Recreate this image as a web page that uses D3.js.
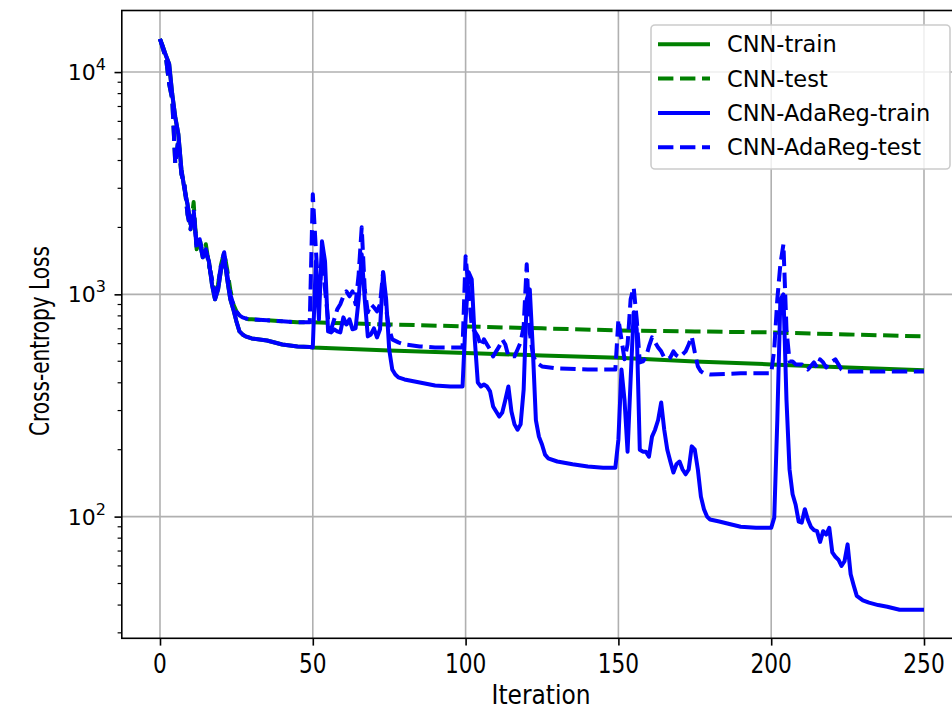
<!DOCTYPE html>
<html>
<head>
<meta charset="utf-8">
<script src="https://cdn.jsdelivr.net/npm/d3@7"></script>
<style>
  body { margin: 0; background: #fff; }
  svg { display: block; }
  .tick-x, .lbl { font-family: "DejaVu Sans Condensed", "DejaVu Sans", sans-serif; font-size: 26px; }
  .tick-y, .legend text { font-family: "DejaVu Sans", sans-serif; }
</style>
</head>
<body>
<svg id="chart"></svg>
<script>
// iterations 0..49, identical for both models before regularisation kicks in
const earlyIter  = [0,1,2,3,4,5,6,7,8,9,10,11,12,13,14,15,16,17,18,19,20,21,22,23,24,25,26,27,28,29,30,35,40,45,49];
const earlyTrain = [14080,12960,11800,10870,7960,6270,5257,3656,2972,2543,2067,2293,1680,1715,1468,1562,1408,1109,950,1053,1296,1483,1168,950,856,756,681,660,647,640,633,620,595,583,580];
const earlyTest  = [14080,12690,11440,8830,7560,3851,4990,3471,3130,2293,1962,2415,1595,1769,1514,1595,1365,1168,1000,1109,1365,1546,1230,1000,902,838,804,788,780,772,772,764,756,748,748];
const cnnEarlyTest = [14080,12690,11440,8830,7560,3851,4990,3471,3130,2293,1962,2600,1595,1769,1514,1680,1365,1168,960,1109,1365,1546,1290,1050,902,838,804,788,780,772,772,764,756,748,748];

// CNN after iteration 50
const cnnLateIter  = [50,75,100,125,150,175,200,225,250];
const cnnTrainLate = [577,559,545,531,518,499,484,469,455];
const cnnTestLate  = [748,732,717,703,688,681,674,660,647];

// CNN-AdaReg after iteration 50
const adaTrainIter = [50,51,52,53,54,55,56,57,58,59,60,61,62,63,64,65,66,67,68,69,70,71,72,73,74,75,76,77,78,80,85,90,95,99,
  100,101,102,103,104,105,106,107,108,109,110,111,112,113,114,115,116,117,118,119,120,121,122,123,124,125,126,127,130,135,140,145,149,
  150,151,152,153,154,155,156,157,158,159,160,161,162,163,164,165,166,167,168,169,170,171,172,173,174,175,176,177,178,179,180,183,190,195,200,
  201,202,203,204,205,206,207,208,209,210,211,212,213,214,215,216,217,218,219,220,221,222,223,224,225,226,227,228,230,232,235,238,242,250];
const adaTrainLate = [577,1408,772,1733,1408,681,674,696,681,674,788,732,772,696,703,950,1514,950,647,660,703,640,696,1256,950,565,459,436,423,414,401,389,385,385,
  772,1256,1168,627,401,385,393,385,366,313,297,282,294,335,385,297,260,246,260,373,950,1053,565,272,229,211,190,183,177,172,168,166,166,
  222,459,335,196,414,830,696,200,196,196,186,229,246,272,326,246,200,177,158,172,177,163,155,163,207,200,163,123,108,100,97,95,90,89,89,
  99,272,950,1000,335,163,126,113,95,94,108,97,90,87,86,77,86,83,89,69,66,64,60,63,75,55,49,44,42,41,40,39.3,38.1,38.1];

const adaTestIter = [50,51,52,53,54,55,56,57,58,59,60,61,62,63,64,65,66,67,68,69,70,71,72,73,74,75,76,78,80,85,90,99,
  100,101,102,103,104,105,106,107,108,109,110,111,112,113,114,115,116,117,118,119,120,121,122,123,125,130,140,149,
  150,151,152,153,154,155,156,157,158,159,160,161,162,163,164,165,166,167,168,169,170,171,172,173,174,175,176,177,178,180,190,200,
  201,202,203,204,205,206,207,208,210,212,214,215,216,217,218,219,220,221,222,223,224,230,250];
const adaTestLate = [2822,1595,950,1438,1053,772,696,772,856,902,980,1031,980,1031,902,1230,2003,1053,830,902,874,838,902,1256,856,696,627,608,595,583,577,577,
  1483,1053,717,681,647,583,627,595,565,526,554,583,627,595,526,526,526,565,608,717,1365,674,537,494,474,464,459,459,
  772,627,510,595,950,1075,772,494,499,520,583,640,608,577,554,520,510,520,554,531,520,537,554,595,647,548,474,450,441,436,441,441,
  565,950,1365,1680,696,499,499,484,484,459,494,469,510,494,469,494,499,510,484,459,450,450,450];

const xTicks = [0, 50, 100, 150, 200, 250];
const yTicks = [100, 1000, 10000];
const yTickExp = ["2", "3", "4"];
const legendLabels = ["CNN-train", "CNN-test", "CNN-AdaReg-train", "CNN-AdaReg-test"];

const width = 952, height = 709;
const plot = { left: 121.8, right: 962.2, top: 10.5, bottom: 638.3 };

const svg = d3.select("#chart").attr("width", width).attr("height", height);

const pairs = (xs, ys) => d3.zip(xs, ys);
const series = [
  { name: legendLabels[0], color: "#008000", dash: null, data: pairs(earlyIter.concat(cnnLateIter), earlyTrain.concat(cnnTrainLate)) },
  { name: legendLabels[1], color: "#008000", dash: "15.4,6.6", data: pairs(earlyIter.concat(cnnLateIter), cnnEarlyTest.concat(cnnTestLate)) },
  { name: legendLabels[2], color: "#0000ff", dash: null, data: pairs(earlyIter.concat(adaTrainIter), earlyTrain.concat(adaTrainLate)) },
  { name: legendLabels[3], color: "#0000ff", dash: "15.4,6.6", data: pairs(earlyIter.concat(adaTestIter), earlyTest.concat(adaTestLate)) }
];

// matplotlib style 5% margins (log space for y)
const allPts = series.flatMap(s => s.data);
const xExt = d3.extent(allPts, d => d[0]);
const xPad = (xExt[1] - xExt[0]) * 0.05;
const lExt = d3.extent(allPts, d => Math.log10(d[1]));
const lPad = (lExt[1] - lExt[0]) * 0.05;

const x = d3.scaleLinear().domain([xExt[0] - xPad, xExt[1] + xPad]).range([plot.left, plot.right]);
const y = d3.scaleLog().domain([Math.pow(10, lExt[0] - lPad), Math.pow(10, lExt[1] + lPad)]).range([plot.bottom, plot.top]);

// grid
const grid = svg.append("g").attr("stroke", "#b0b0b0").attr("stroke-width", 1.6);
grid.selectAll(".gx").data(xTicks).join("line")
  .attr("x1", d => x(d)).attr("x2", d => x(d)).attr("y1", plot.top).attr("y2", plot.bottom);
grid.selectAll(".gy").data(yTicks).join("line")
  .attr("y1", d => y(d)).attr("y2", d => y(d)).attr("x1", plot.left).attr("x2", plot.right);

// lines
const line = d3.line().x(d => x(d[0])).y(d => y(d[1]));
svg.append("g").selectAll("path").data(series).join("path")
  .attr("d", d => line(d.data))
  .attr("fill", "none")
  .attr("stroke", d => d.color)
  .attr("stroke-width", 4)
  .attr("stroke-linejoin", "round")
  .attr("stroke-dasharray", d => d.dash);

// axes
const xAxis = svg.append("g").attr("transform", `translate(0,${plot.bottom})`)
  .call(d3.axisBottom(x).tickValues(xTicks).tickSize(7.3).tickFormat("").tickSizeOuter(0));
xAxis.select(".domain").remove();
xAxis.selectAll(".tick line").attr("stroke-width", 1.6);
svg.append("g").selectAll("text").data(xTicks).join("text")
  .attr("class", "tick-x")
  .attr("x", d => x(d)).attr("y", 673)
  .attr("text-anchor", "middle")
  .attr("textLength", d => String(d).length * 13.8)
  .attr("lengthAdjust", "spacingAndGlyphs")
  .text(d => d);

const minor = [];
[10, 100, 1000].forEach(b => { for (let k = 2; k <= 9; k++) minor.push(b * k); });
const yDom = y.domain();
const minorIn = minor.filter(v => v >= yDom[0] && v <= yDom[1]);

const yAxis = svg.append("g").attr("transform", `translate(${plot.left},0)`)
  .call(d3.axisLeft(y).tickValues(yTicks).tickSize(7.3).tickFormat(""));
yAxis.select(".domain").remove();
yAxis.selectAll(".tick line").attr("stroke-width", 1.6);
svg.append("g").selectAll("line").data(minorIn).join("line")
  .attr("x1", plot.left - 4.2).attr("x2", plot.left)
  .attr("y1", d => y(d)).attr("y2", d => y(d))
  .attr("stroke", "#000").attr("stroke-width", 1.2);

const yl = svg.append("g").selectAll("text").data(yTicks).join("text")
  .attr("class", "tick-y")
  .attr("x", 106).attr("y", d => y(d) + 8)
  .attr("text-anchor", "end")
  .attr("font-size", 22);
yl.append("tspan").text("10");
yl.append("tspan").attr("dy", -10).attr("font-size", 16).text((d, i) => yTickExp[i]);

// spines
svg.append("rect")
  .attr("x", plot.left).attr("y", plot.top)
  .attr("width", plot.right - plot.left).attr("height", plot.bottom - plot.top)
  .attr("fill", "none").attr("stroke", "#000").attr("stroke-width", 1.6);

// labels
svg.append("text").attr("class", "lbl")
  .attr("x", 541).attr("y", 704)
  .attr("text-anchor", "middle")
  .attr("textLength", 99).attr("lengthAdjust", "spacingAndGlyphs")
  .text("Iteration");
svg.append("text").attr("class", "lbl")
  .attr("transform", "translate(49,341) rotate(-90)")
  .attr("text-anchor", "middle")
  .attr("textLength", 190).attr("lengthAdjust", "spacingAndGlyphs")
  .text("Cross-entropy Loss");

// legend
const lg = svg.append("g").attr("class", "legend");
lg.append("rect").attr("x", 651).attr("y", 25).attr("width", 299).attr("height", 144).attr("rx", 4)
  .attr("fill", "rgba(255,255,255,0.8)").attr("stroke", "#cccccc").attr("stroke-width", 1.6);
const rows = lg.selectAll(".row").data(series).join("g")
  .attr("transform", (d, i) => `translate(0,${44.3 + i * 34.3})`);
rows.append("line").attr("x1", 658).attr("x2", 710)
  .attr("stroke", d => d.color).attr("stroke-width", 4)
  .attr("stroke-dasharray", d => d.dash);
rows.append("text").attr("x", 727).attr("dy", "0.36em")
  .attr("font-size", 22.5).text(d => d.name);
</script>
</body>
</html>
